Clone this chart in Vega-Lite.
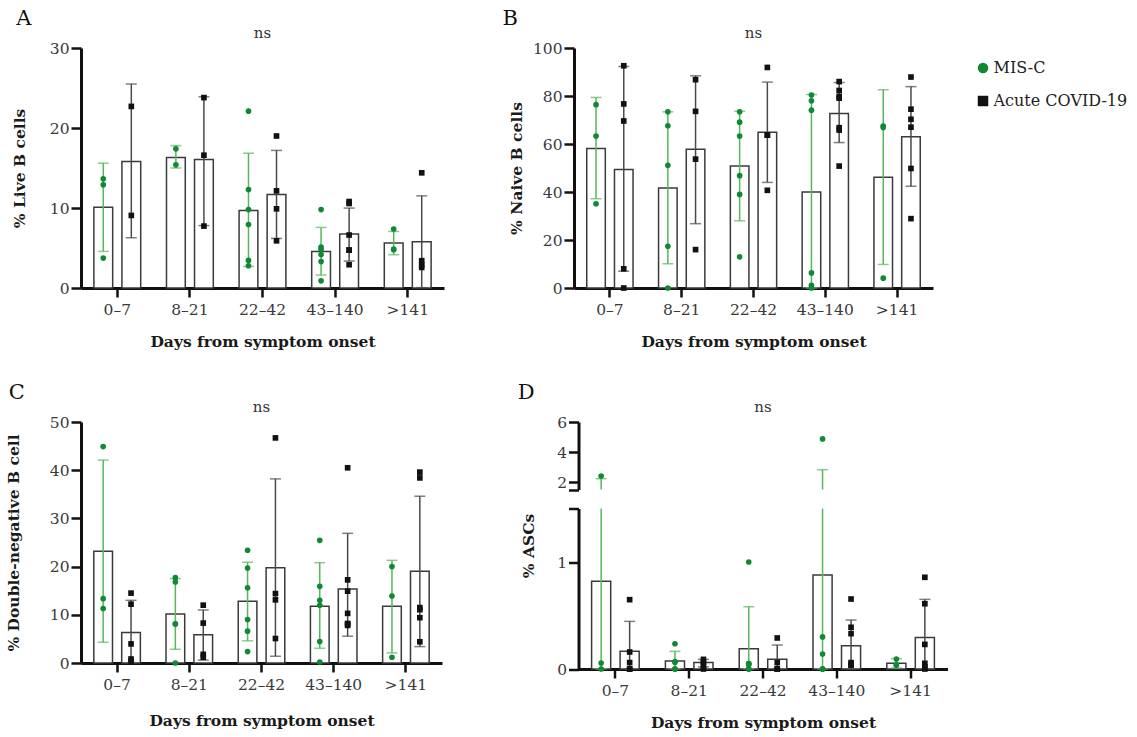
{
  "$schema": "https://vega.github.io/schema/vega-lite/v6.json",
  "background": "white",
  "padding": {"left": 6, "top": 8, "right": 0, "bottom": 0},
  "datasets": {
    "pts": [
      {"panel":"A","days":"0–7","group":"MIS-C","value":13.65},{"panel":"A","days":"0–7","group":"MIS-C","value":12.9},{"panel":"A","days":"0–7","group":"MIS-C","value":3.74},
      {"panel":"A","days":"0–7","group":"Acute COVID-19","value":22.7},{"panel":"A","days":"0–7","group":"Acute COVID-19","value":9.07},
      {"panel":"A","days":"8–21","group":"MIS-C","value":17.4},{"panel":"A","days":"8–21","group":"MIS-C","value":15.4},
      {"panel":"A","days":"8–21","group":"Acute COVID-19","value":23.8},{"panel":"A","days":"8–21","group":"Acute COVID-19","value":16.6},{"panel":"A","days":"8–21","group":"Acute COVID-19","value":7.74},
      {"panel":"A","days":"22–42","group":"MIS-C","value":22.1},{"panel":"A","days":"22–42","group":"MIS-C","value":12.3},{"panel":"A","days":"22–42","group":"MIS-C","value":9.8},{"panel":"A","days":"22–42","group":"MIS-C","value":7.94},{"panel":"A","days":"22–42","group":"MIS-C","value":3.45},{"panel":"A","days":"22–42","group":"MIS-C","value":2.78},
      {"panel":"A","days":"22–42","group":"Acute COVID-19","value":19.0},{"panel":"A","days":"22–42","group":"Acute COVID-19","value":12.15},{"panel":"A","days":"22–42","group":"Acute COVID-19","value":9.9},{"panel":"A","days":"22–42","group":"Acute COVID-19","value":5.9},
      {"panel":"A","days":"43–140","group":"MIS-C","value":9.8},{"panel":"A","days":"43–140","group":"MIS-C","value":5.12},{"panel":"A","days":"43–140","group":"MIS-C","value":4.83},{"panel":"A","days":"43–140","group":"MIS-C","value":4.18},{"panel":"A","days":"43–140","group":"MIS-C","value":3.3},{"panel":"A","days":"43–140","group":"MIS-C","value":0.9},
      {"panel":"A","days":"43–140","group":"Acute COVID-19","value":10.56},{"panel":"A","days":"43–140","group":"Acute COVID-19","value":10.81},{"panel":"A","days":"43–140","group":"Acute COVID-19","value":6.62},{"panel":"A","days":"43–140","group":"Acute COVID-19","value":4.74},{"panel":"A","days":"43–140","group":"Acute COVID-19","value":4.74},{"panel":"A","days":"43–140","group":"Acute COVID-19","value":2.91},
      {"panel":"A","days":">141","group":"MIS-C","value":7.37},{"panel":"A","days":">141","group":"MIS-C","value":4.82},{"panel":"A","days":">141","group":"MIS-C","value":4.82},
      {"panel":"A","days":">141","group":"Acute COVID-19","value":14.4},{"panel":"A","days":">141","group":"Acute COVID-19","value":3.41},{"panel":"A","days":">141","group":"Acute COVID-19","value":2.57},{"panel":"A","days":">141","group":"Acute COVID-19","value":2.91},

      {"panel":"B","days":"0–7","group":"MIS-C","value":76.4},{"panel":"B","days":"0–7","group":"MIS-C","value":63.3},{"panel":"B","days":"0–7","group":"MIS-C","value":35.1},
      {"panel":"B","days":"0–7","group":"Acute COVID-19","value":92.6},{"panel":"B","days":"0–7","group":"Acute COVID-19","value":76.7},{"panel":"B","days":"0–7","group":"Acute COVID-19","value":69.6},{"panel":"B","days":"0–7","group":"Acute COVID-19","value":8.0},{"panel":"B","days":"0–7","group":"Acute COVID-19","value":0},
      {"panel":"B","days":"8–21","group":"MIS-C","value":73.4},{"panel":"B","days":"8–21","group":"MIS-C","value":67.6},{"panel":"B","days":"8–21","group":"MIS-C","value":51.1},{"panel":"B","days":"8–21","group":"MIS-C","value":17.4},{"panel":"B","days":"8–21","group":"MIS-C","value":0},
      {"panel":"B","days":"8–21","group":"Acute COVID-19","value":86.8},{"panel":"B","days":"8–21","group":"Acute COVID-19","value":73.6},{"panel":"B","days":"8–21","group":"Acute COVID-19","value":53.7},{"panel":"B","days":"8–21","group":"Acute COVID-19","value":16.0},
      {"panel":"B","days":"22–42","group":"MIS-C","value":73.4},{"panel":"B","days":"22–42","group":"MIS-C","value":69.1},{"panel":"B","days":"22–42","group":"MIS-C","value":63.3},{"panel":"B","days":"22–42","group":"MIS-C","value":46.8},{"panel":"B","days":"22–42","group":"MIS-C","value":39.0},{"panel":"B","days":"22–42","group":"MIS-C","value":13.0},
      {"panel":"B","days":"22–42","group":"Acute COVID-19","value":91.9},{"panel":"B","days":"22–42","group":"Acute COVID-19","value":63.7},{"panel":"B","days":"22–42","group":"Acute COVID-19","value":63.7},{"panel":"B","days":"22–42","group":"Acute COVID-19","value":40.7},
      {"panel":"B","days":"43–140","group":"MIS-C","value":80.4},{"panel":"B","days":"43–140","group":"MIS-C","value":78.0},{"panel":"B","days":"43–140","group":"MIS-C","value":74.1},{"panel":"B","days":"43–140","group":"MIS-C","value":6.3},{"panel":"B","days":"43–140","group":"MIS-C","value":0},{"panel":"B","days":"43–140","group":"MIS-C","value":1.1},
      {"panel":"B","days":"43–140","group":"Acute COVID-19","value":86.0},{"panel":"B","days":"43–140","group":"Acute COVID-19","value":82.3},{"panel":"B","days":"43–140","group":"Acute COVID-19","value":79.8},{"panel":"B","days":"43–140","group":"Acute COVID-19","value":79.1},{"panel":"B","days":"43–140","group":"Acute COVID-19","value":66.8},{"panel":"B","days":"43–140","group":"Acute COVID-19","value":65.8},{"panel":"B","days":"43–140","group":"Acute COVID-19","value":50.8},
      {"panel":"B","days":">141","group":"MIS-C","value":67.5},{"panel":"B","days":">141","group":"MIS-C","value":66.9},{"panel":"B","days":">141","group":"MIS-C","value":4.1},
      {"panel":"B","days":">141","group":"Acute COVID-19","value":87.9},{"panel":"B","days":">141","group":"Acute COVID-19","value":74.5},{"panel":"B","days":">141","group":"Acute COVID-19","value":70.3},{"panel":"B","days":">141","group":"Acute COVID-19","value":67.0},{"panel":"B","days":">141","group":"Acute COVID-19","value":49.8},{"panel":"B","days":">141","group":"Acute COVID-19","value":28.9},

      {"panel":"C","days":"0–7","group":"MIS-C","value":44.9},{"panel":"C","days":"0–7","group":"MIS-C","value":13.35},{"panel":"C","days":"0–7","group":"MIS-C","value":11.3},
      {"panel":"C","days":"0–7","group":"Acute COVID-19","value":14.5},{"panel":"C","days":"0–7","group":"Acute COVID-19","value":12.2},{"panel":"C","days":"0–7","group":"Acute COVID-19","value":3.96},{"panel":"C","days":"0–7","group":"Acute COVID-19","value":0.4},{"panel":"C","days":"0–7","group":"Acute COVID-19","value":0.83},
      {"panel":"C","days":"8–21","group":"MIS-C","value":17.7},{"panel":"C","days":"8–21","group":"MIS-C","value":16.8},{"panel":"C","days":"8–21","group":"MIS-C","value":8.14},{"panel":"C","days":"8–21","group":"MIS-C","value":8.07},{"panel":"C","days":"8–21","group":"MIS-C","value":0},
      {"panel":"C","days":"8–21","group":"Acute COVID-19","value":12.0},{"panel":"C","days":"8–21","group":"Acute COVID-19","value":8.28},{"panel":"C","days":"8–21","group":"Acute COVID-19","value":1.8},{"panel":"C","days":"8–21","group":"Acute COVID-19","value":1.2},
      {"panel":"C","days":"22–42","group":"MIS-C","value":23.4},{"panel":"C","days":"22–42","group":"MIS-C","value":19.7},{"panel":"C","days":"22–42","group":"MIS-C","value":15.6},{"panel":"C","days":"22–42","group":"MIS-C","value":9.0},{"panel":"C","days":"22–42","group":"MIS-C","value":6.6},{"panel":"C","days":"22–42","group":"MIS-C","value":2.36},
      {"panel":"C","days":"22–42","group":"Acute COVID-19","value":46.7},{"panel":"C","days":"22–42","group":"Acute COVID-19","value":14.4},{"panel":"C","days":"22–42","group":"Acute COVID-19","value":13.1},{"panel":"C","days":"22–42","group":"Acute COVID-19","value":5.08},
      {"panel":"C","days":"43–140","group":"MIS-C","value":25.45},{"panel":"C","days":"43–140","group":"MIS-C","value":15.9},{"panel":"C","days":"43–140","group":"MIS-C","value":13.0},{"panel":"C","days":"43–140","group":"MIS-C","value":11.96},{"panel":"C","days":"43–140","group":"MIS-C","value":4.45},{"panel":"C","days":"43–140","group":"MIS-C","value":0.2},
      {"panel":"C","days":"43–140","group":"Acute COVID-19","value":40.5},{"panel":"C","days":"43–140","group":"Acute COVID-19","value":17.25},{"panel":"C","days":"43–140","group":"Acute COVID-19","value":14.9},{"panel":"C","days":"43–140","group":"Acute COVID-19","value":10.3},{"panel":"C","days":"43–140","group":"Acute COVID-19","value":7.8},{"panel":"C","days":"43–140","group":"Acute COVID-19","value":8.2},{"panel":"C","days":"43–140","group":"Acute COVID-19","value":8.07},
      {"panel":"C","days":">141","group":"MIS-C","value":20.0},{"panel":"C","days":">141","group":"MIS-C","value":13.9},{"panel":"C","days":">141","group":"MIS-C","value":1.2},
      {"panel":"C","days":">141","group":"Acute COVID-19","value":39.6},{"panel":"C","days":">141","group":"Acute COVID-19","value":38.4},{"panel":"C","days":">141","group":"Acute COVID-19","value":11.06},{"panel":"C","days":">141","group":"Acute COVID-19","value":11.5},{"panel":"C","days":">141","group":"Acute COVID-19","value":9.4},{"panel":"C","days":">141","group":"Acute COVID-19","value":4.4},

      {"panel":"D","days":"0–7","group":"MIS-C","value":2.4},{"panel":"D","days":"0–7","group":"MIS-C","value":0.056},{"panel":"D","days":"0–7","group":"MIS-C","value":0},
      {"panel":"D","days":"0–7","group":"Acute COVID-19","value":0.648},{"panel":"D","days":"0–7","group":"Acute COVID-19","value":0.159},{"panel":"D","days":"0–7","group":"Acute COVID-19","value":0.06},{"panel":"D","days":"0–7","group":"Acute COVID-19","value":0},{"panel":"D","days":"0–7","group":"Acute COVID-19","value":0},
      {"panel":"D","days":"8–21","group":"MIS-C","value":0.236},{"panel":"D","days":"8–21","group":"MIS-C","value":0.062},{"panel":"D","days":"8–21","group":"MIS-C","value":0.07},{"panel":"D","days":"8–21","group":"MIS-C","value":0},{"panel":"D","days":"8–21","group":"MIS-C","value":0},
      {"panel":"D","days":"8–21","group":"Acute COVID-19","value":0.09},{"panel":"D","days":"8–21","group":"Acute COVID-19","value":0.06},{"panel":"D","days":"8–21","group":"Acute COVID-19","value":0.03},{"panel":"D","days":"8–21","group":"Acute COVID-19","value":0},
      {"panel":"D","days":"22–42","group":"MIS-C","value":1.0},{"panel":"D","days":"22–42","group":"MIS-C","value":0.05},{"panel":"D","days":"22–42","group":"MIS-C","value":0.05},{"panel":"D","days":"22–42","group":"MIS-C","value":0.04},{"panel":"D","days":"22–42","group":"MIS-C","value":0},{"panel":"D","days":"22–42","group":"MIS-C","value":0},
      {"panel":"D","days":"22–42","group":"Acute COVID-19","value":0.29},{"panel":"D","days":"22–42","group":"Acute COVID-19","value":0.06},{"panel":"D","days":"22–42","group":"Acute COVID-19","value":0},{"panel":"D","days":"22–42","group":"Acute COVID-19","value":0},
      {"panel":"D","days":"43–140","group":"MIS-C","value":4.87},{"panel":"D","days":"43–140","group":"MIS-C","value":0.3},{"panel":"D","days":"43–140","group":"MIS-C","value":0.14},{"panel":"D","days":"43–140","group":"MIS-C","value":0},{"panel":"D","days":"43–140","group":"MIS-C","value":0},{"panel":"D","days":"43–140","group":"MIS-C","value":0},
      {"panel":"D","days":"43–140","group":"Acute COVID-19","value":0.654},{"panel":"D","days":"43–140","group":"Acute COVID-19","value":0.39},{"panel":"D","days":"43–140","group":"Acute COVID-19","value":0.33},{"panel":"D","days":"43–140","group":"Acute COVID-19","value":0.06},{"panel":"D","days":"43–140","group":"Acute COVID-19","value":0.037},{"panel":"D","days":"43–140","group":"Acute COVID-19","value":0.037},
      {"panel":"D","days":">141","group":"MIS-C","value":0.093},{"panel":"D","days":">141","group":"MIS-C","value":0.037},{"panel":"D","days":">141","group":"MIS-C","value":0.037},
      {"panel":"D","days":">141","group":"Acute COVID-19","value":0.857},{"panel":"D","days":">141","group":"Acute COVID-19","value":0.61},{"panel":"D","days":">141","group":"Acute COVID-19","value":0.23},{"panel":"D","days":">141","group":"Acute COVID-19","value":0.053},{"panel":"D","days":">141","group":"Acute COVID-19","value":0},{"panel":"D","days":">141","group":"Acute COVID-19","value":0.02}
    ],
    "sum": [
      {"panel":"A","days":"0–7","group":"MIS-C","mean":10.1,"lo":4.57,"hi":15.6},
      {"panel":"A","days":"0–7","group":"Acute COVID-19","mean":15.8,"lo":6.28,"hi":25.5},
      {"panel":"A","days":"8–21","group":"MIS-C","mean":16.3,"lo":15.0,"hi":17.8},
      {"panel":"A","days":"8–21","group":"Acute COVID-19","mean":16.05,"lo":7.8,"hi":23.9},
      {"panel":"A","days":"22–42","group":"MIS-C","mean":9.7,"lo":2.7,"hi":16.85},
      {"panel":"A","days":"22–42","group":"Acute COVID-19","mean":11.7,"lo":6.2,"hi":17.2},
      {"panel":"A","days":"43–140","group":"MIS-C","mean":4.57,"lo":1.62,"hi":7.57},
      {"panel":"A","days":"43–140","group":"Acute COVID-19","mean":6.74,"lo":3.37,"hi":9.99},
      {"panel":"A","days":">141","group":"MIS-C","mean":5.62,"lo":4.16,"hi":7.07},
      {"panel":"A","days":">141","group":"Acute COVID-19","mean":5.78,"lo":0.04,"hi":11.52},
      {"panel":"B","days":"0–7","group":"MIS-C","mean":58.1,"lo":37.2,"hi":79.4},
      {"panel":"B","days":"0–7","group":"Acute COVID-19","mean":49.4,"lo":7.0,"hi":92.3},
      {"panel":"B","days":"8–21","group":"MIS-C","mean":41.7,"lo":10.1,"hi":73.4},
      {"panel":"B","days":"8–21","group":"Acute COVID-19","mean":57.8,"lo":26.8,"hi":88.4},
      {"panel":"B","days":"22–42","group":"MIS-C","mean":50.8,"lo":28.0,"hi":73.6},
      {"panel":"B","days":"22–42","group":"Acute COVID-19","mean":64.9,"lo":44.0,"hi":85.8},
      {"panel":"B","days":"43–140","group":"MIS-C","mean":40.0,"lo":0,"hi":80.6},
      {"panel":"B","days":"43–140","group":"Acute COVID-19","mean":72.7,"lo":60.6,"hi":85.6},
      {"panel":"B","days":">141","group":"MIS-C","mean":46.1,"lo":9.8,"hi":82.6},
      {"panel":"B","days":">141","group":"Acute COVID-19","mean":63.0,"lo":42.4,"hi":83.9},
      {"panel":"C","days":"0–7","group":"MIS-C","mean":23.2,"lo":4.3,"hi":42.1},
      {"panel":"C","days":"0–7","group":"Acute COVID-19","mean":6.33,"lo":0,"hi":13.0},
      {"panel":"C","days":"8–21","group":"MIS-C","mean":10.15,"lo":2.85,"hi":17.5},
      {"panel":"C","days":"8–21","group":"Acute COVID-19","mean":5.84,"lo":0.6,"hi":11.0},
      {"panel":"C","days":"22–42","group":"MIS-C","mean":12.8,"lo":4.6,"hi":20.9},
      {"panel":"C","days":"22–42","group":"Acute COVID-19","mean":19.75,"lo":1.4,"hi":38.2},
      {"panel":"C","days":"43–140","group":"MIS-C","mean":11.75,"lo":3.06,"hi":20.8},
      {"panel":"C","days":"43–140","group":"Acute COVID-19","mean":15.37,"lo":5.56,"hi":26.9},
      {"panel":"C","days":">141","group":"MIS-C","mean":11.75,"lo":2.1,"hi":21.3},
      {"panel":"C","days":">141","group":"Acute COVID-19","mean":19.05,"lo":3.4,"hi":34.6},
      {"panel":"D","days":"0–7","group":"MIS-C","mean":0.82,"lo":0,"hi":2.22},
      {"panel":"D","days":"0–7","group":"Acute COVID-19","mean":0.165,"lo":0,"hi":0.445},
      {"panel":"D","days":"8–21","group":"MIS-C","mean":0.075,"lo":0,"hi":0.165},
      {"panel":"D","days":"8–21","group":"Acute COVID-19","mean":0.06,"lo":0.02,"hi":0.09},
      {"panel":"D","days":"22–42","group":"MIS-C","mean":0.19,"lo":0,"hi":0.582},
      {"panel":"D","days":"22–42","group":"Acute COVID-19","mean":0.09,"lo":0,"hi":0.224},
      {"panel":"D","days":"43–140","group":"MIS-C","mean":0.878,"lo":0,"hi":2.82},
      {"panel":"D","days":"43–140","group":"Acute COVID-19","mean":0.218,"lo":0,"hi":0.458},
      {"panel":"D","days":">141","group":"MIS-C","mean":0.053,"lo":0.01,"hi":0.096},
      {"panel":"D","days":">141","group":"Acute COVID-19","mean":0.295,"lo":0,"hi":0.651}
    ]
  },
  "config": {
    "font": "DejaVu Serif",
    "view": {"stroke": null},
    "axis": {"domainColor": "#111111", "domainWidth": 3, "tickColor": "#111111", "tickWidth": 2.5, "tickSize": 10, "labelFont": "DejaVu Serif", "labelFontSize": 15.5, "labelColor": "#3a3a3a", "labelPadding": 2, "titleFont": "DejaVu Serif", "titleFontSize": 15.5, "titleFontWeight": "bold", "titleColor": "#1a1a1a", "grid": false},
    "axisX": {"labelAngle": 0, "labelPadding": 5, "titlePadding": 17, "tickSize": 9},
    "axisY": {"labelOverlap": false},
    "title": {"font": "DejaVu Serif", "fontWeight": "normal", "color": "#111111"}
  },
  "spacing": 32,
  "resolve": {"scale": {"xOffset": "independent"}},
  "vconcat": [
    {
      "hconcat": [
        {
          "title": {"text": "A", "anchor": "start", "frame": "bounds", "fontSize": 21, "offset": -3, "dx": 4},
          "resolve": {"scale": {"xOffset": "independent"}},
          "vconcat": [
            {
              "width": 363, "height": 240,
              "title": {"text": "ns", "anchor": "middle", "frame": "group", "fontSize": 15, "color": "#333333", "offset": 0},
              "encoding": {
                "x": {"field": "days", "type": "nominal", "sort": ["0–7","8–21","22–42","43–140",">141"], "scale": {"domain": ["0–7","8–21","22–42","43–140",">141"], "paddingInner": 0, "paddingOuter": 0}, "title": "Days from symptom onset"},
                "xOffset": {"field": "group", "type": "nominal", "sort": ["MIS-C","Acute COVID-19"], "scale": {"domain": ["MIS-C","Acute COVID-19"], "paddingInner": 0.33, "paddingOuter": 0.46}}
              },
              "layer": [
                {"data": {"name": "sum"}, "transform": [{"filter": "datum.panel === 'A'"}], "mark": {"type": "bar", "fill": "white", "stroke": "#3a3a3a", "strokeWidth": 1.5}, "encoding": {"y": {"field": "mean", "type": "quantitative", "scale": {"domain": [0, 30], "nice": false}, "axis": {"values": [0,10,20,30], "title": "% Live B cells", "titlePadding": 22}}}},
                {"data": {"name": "sum"}, "transform": [{"filter": "datum.panel === 'A'"}], "mark": {"type": "rule", "strokeWidth": 1.5}, "encoding": {"y": {"field": "lo", "type": "quantitative"}, "y2": {"field": "hi"}, "color": {"condition": {"test": "datum.group === 'MIS-C'", "value": "#5ab55c"}, "value": "#4a4a4a"}}},
                {"data": {"name": "sum"}, "transform": [{"filter": "datum.panel === 'A'"}], "mark": {"type": "tick", "thickness": 1.5, "size": 11}, "encoding": {"y": {"field": "hi", "type": "quantitative"}, "color": {"condition": {"test": "datum.group === 'MIS-C'", "value": "#5ab55c"}, "value": "#4a4a4a"}}},
                {"data": {"name": "sum"}, "transform": [{"filter": "datum.panel === 'A'"}], "mark": {"type": "tick", "thickness": 1.5, "size": 11}, "encoding": {"y": {"field": "lo", "type": "quantitative"}, "color": {"condition": {"test": "datum.group === 'MIS-C'", "value": "#5ab55c"}, "value": "#4a4a4a"}}},
                {"data": {"name": "pts"}, "transform": [{"filter": "datum.panel === 'A'"}], "mark": {"type": "point", "filled": true, "size": 32, "opacity": 1}, "encoding": {"y": {"field": "value", "type": "quantitative"}, "color": {"field": "group", "type": "nominal", "scale": {"domain": ["MIS-C","Acute COVID-19"], "range": ["#0d8a33","#111111"]}, "legend": {"title": null, "orient": "none", "legendX": 894, "legendY": 12, "labelFontSize": 16, "labelColor": "#222222", "symbolSize": 110, "rowPadding": 17, "labelOffset": 2.5}}, "shape": {"field": "group", "type": "nominal", "scale": {"domain": ["MIS-C","Acute COVID-19"], "range": ["circle","square"]}, "legend": {"title": null, "orient": "none", "legendX": 894, "legendY": 12, "labelFontSize": 16, "labelColor": "#222222", "symbolSize": 110, "rowPadding": 17, "labelOffset": 2.5}}}}
              ]
            }
          ]
        },
        {
          "title": {"text": "B", "anchor": "start", "frame": "bounds", "fontSize": 21, "offset": -3, "dx": -7},
          "resolve": {"scale": {"xOffset": "independent"}},
          "vconcat": [
            {
              "width": 359, "height": 240,
              "title": {"text": "ns", "anchor": "middle", "frame": "group", "fontSize": 15, "color": "#333333", "offset": 0},
              "encoding": {
                "x": {"field": "days", "type": "nominal", "sort": ["0–7","8–21","22–42","43–140",">141"], "scale": {"domain": ["0–7","8–21","22–42","43–140",">141"], "paddingInner": 0, "paddingOuter": 0}, "title": "Days from symptom onset"},
                "xOffset": {"field": "group", "type": "nominal", "sort": ["MIS-C","Acute COVID-19"], "scale": {"domain": ["MIS-C","Acute COVID-19"], "paddingInner": 0.33, "paddingOuter": 0.46}}
              },
              "layer": [
                {"data": {"name": "sum"}, "transform": [{"filter": "datum.panel === 'B'"}], "mark": {"type": "bar", "fill": "white", "stroke": "#3a3a3a", "strokeWidth": 1.5}, "encoding": {"y": {"field": "mean", "type": "quantitative", "scale": {"domain": [0, 100], "nice": false}, "axis": {"values": [0,20,40,60,80,100], "title": "% Naive B cells", "titlePadding": 8}}}},
                {"data": {"name": "sum"}, "transform": [{"filter": "datum.panel === 'B'"}], "mark": {"type": "rule", "strokeWidth": 1.5}, "encoding": {"y": {"field": "lo", "type": "quantitative"}, "y2": {"field": "hi"}, "color": {"condition": {"test": "datum.group === 'MIS-C'", "value": "#5ab55c"}, "value": "#4a4a4a"}}},
                {"data": {"name": "sum"}, "transform": [{"filter": "datum.panel === 'B'"}], "mark": {"type": "tick", "thickness": 1.5, "size": 11}, "encoding": {"y": {"field": "hi", "type": "quantitative"}, "color": {"condition": {"test": "datum.group === 'MIS-C'", "value": "#5ab55c"}, "value": "#4a4a4a"}}},
                {"data": {"name": "sum"}, "transform": [{"filter": "datum.panel === 'B'"}], "mark": {"type": "tick", "thickness": 1.5, "size": 11}, "encoding": {"y": {"field": "lo", "type": "quantitative"}, "color": {"condition": {"test": "datum.group === 'MIS-C'", "value": "#5ab55c"}, "value": "#4a4a4a"}}},
                {"data": {"name": "pts"}, "transform": [{"filter": "datum.panel === 'B'"}], "mark": {"type": "point", "filled": true, "size": 32, "opacity": 1}, "encoding": {"y": {"field": "value", "type": "quantitative"}, "color": {"field": "group", "type": "nominal", "scale": {"domain": ["MIS-C","Acute COVID-19"], "range": ["#0d8a33","#111111"]}, "legend": {"title": null, "orient": "none", "legendX": 894, "legendY": 12, "labelFontSize": 16, "labelColor": "#222222", "symbolSize": 110, "rowPadding": 17, "labelOffset": 2.5}}, "shape": {"field": "group", "type": "nominal", "scale": {"domain": ["MIS-C","Acute COVID-19"], "range": ["circle","square"]}, "legend": {"title": null, "orient": "none", "legendX": 894, "legendY": 12, "labelFontSize": 16, "labelColor": "#222222", "symbolSize": 110, "rowPadding": 17, "labelOffset": 2.5}}}}
              ]
            }
          ]
        }
      ],
      "spacing": 58,
      "resolve": {"scale": {"xOffset": "independent"}}
    },
    {
      "hconcat": [
        {
          "title": {"text": "C", "anchor": "start", "frame": "bounds", "fontSize": 21, "offset": -3, "dx": 2},
          "resolve": {"scale": {"xOffset": "independent"}},
          "vconcat": [
            {
              "width": 361, "height": 241,
              "title": {"text": "ns", "anchor": "middle", "frame": "group", "fontSize": 15, "color": "#333333", "offset": 0},
              "encoding": {
                "x": {"field": "days", "type": "nominal", "sort": ["0–7","8–21","22–42","43–140",">141"], "scale": {"domain": ["0–7","8–21","22–42","43–140",">141"], "paddingInner": 0, "paddingOuter": 0}, "title": "Days from symptom onset", "axis": {"titlePadding": 21}},
                "xOffset": {"field": "group", "type": "nominal", "sort": ["MIS-C","Acute COVID-19"], "scale": {"domain": ["MIS-C","Acute COVID-19"], "paddingInner": 0.33, "paddingOuter": 0.46}}
              },
              "layer": [
                {"data": {"name": "sum"}, "transform": [{"filter": "datum.panel === 'C'"}], "mark": {"type": "bar", "fill": "white", "stroke": "#3a3a3a", "strokeWidth": 1.5}, "encoding": {"y": {"field": "mean", "type": "quantitative", "scale": {"domain": [0, 50], "nice": false}, "axis": {"values": [0,10,20,30,40,50], "title": "% Double-negative B cell", "titlePadding": 27.5}}}},
                {"data": {"name": "sum"}, "transform": [{"filter": "datum.panel === 'C'"}], "mark": {"type": "rule", "strokeWidth": 1.5}, "encoding": {"y": {"field": "lo", "type": "quantitative"}, "y2": {"field": "hi"}, "color": {"condition": {"test": "datum.group === 'MIS-C'", "value": "#5ab55c"}, "value": "#4a4a4a"}}},
                {"data": {"name": "sum"}, "transform": [{"filter": "datum.panel === 'C'"}], "mark": {"type": "tick", "thickness": 1.5, "size": 11}, "encoding": {"y": {"field": "hi", "type": "quantitative"}, "color": {"condition": {"test": "datum.group === 'MIS-C'", "value": "#5ab55c"}, "value": "#4a4a4a"}}},
                {"data": {"name": "sum"}, "transform": [{"filter": "datum.panel === 'C'"}], "mark": {"type": "tick", "thickness": 1.5, "size": 11}, "encoding": {"y": {"field": "lo", "type": "quantitative"}, "color": {"condition": {"test": "datum.group === 'MIS-C'", "value": "#5ab55c"}, "value": "#4a4a4a"}}},
                {"data": {"name": "pts"}, "transform": [{"filter": "datum.panel === 'C'"}], "mark": {"type": "point", "filled": true, "size": 32, "opacity": 1}, "encoding": {"y": {"field": "value", "type": "quantitative"}, "color": {"field": "group", "type": "nominal", "scale": {"domain": ["MIS-C","Acute COVID-19"], "range": ["#0d8a33","#111111"]}, "legend": {"title": null, "orient": "none", "legendX": 894, "legendY": 12, "labelFontSize": 16, "labelColor": "#222222", "symbolSize": 110, "rowPadding": 17, "labelOffset": 2.5}}, "shape": {"field": "group", "type": "nominal", "scale": {"domain": ["MIS-C","Acute COVID-19"], "range": ["circle","square"]}, "legend": {"title": null, "orient": "none", "legendX": 894, "legendY": 12, "labelFontSize": 16, "labelColor": "#222222", "symbolSize": 110, "rowPadding": 17, "labelOffset": 2.5}}}}
              ]
            }
          ]
        },
        {
          "title": {"text": "D", "anchor": "start", "frame": "bounds", "fontSize": 21, "offset": -3, "dx": -4},
          "resolve": {"scale": {"xOffset": "independent"}},
          "spacing": 3.5,
          "vconcat": [
            {
              "width": 369, "height": 67.5,
              "title": {"text": "ns", "anchor": "middle", "frame": "group", "fontSize": 15, "color": "#333333", "offset": 0},
              "encoding": {
                "x": {"field": "days", "type": "nominal", "sort": ["0–7","8–21","22–42","43–140",">141"], "scale": {"domain": ["0–7","8–21","22–42","43–140",">141"], "paddingInner": 0, "paddingOuter": 0}, "axis": null},
                "xOffset": {"field": "group", "type": "nominal", "sort": ["MIS-C","Acute COVID-19"], "scale": {"domain": ["MIS-C","Acute COVID-19"], "paddingInner": 0.33, "paddingOuter": 0.46}}
              },
              "layer": [
                {"data": {"name": "sum"}, "transform": [{"filter": "datum.panel === 'D' && datum.hi > 1.5"}], "mark": {"type": "rule", "strokeWidth": 1.5}, "encoding": {"y": {"field": "lo", "type": "quantitative", "scale": {"domain": [1.5, 6], "nice": false, "zero": false, "clamp": true}, "axis": {"values": [1.5,2,4,6], "tickCount": 8, "format": ".0f", "labelExpr": "datum.value === 1.5 ? '' : datum.label", "title": null}}, "y2": {"field": "hi"}, "color": {"condition": {"test": "datum.group === 'MIS-C'", "value": "#5ab55c"}, "value": "#4a4a4a"}}},
                {"data": {"name": "sum"}, "transform": [{"filter": "datum.panel === 'D' && datum.hi > 1.5"}], "mark": {"type": "tick", "thickness": 1.5, "size": 11}, "encoding": {"y": {"field": "hi", "type": "quantitative"}, "color": {"condition": {"test": "datum.group === 'MIS-C'", "value": "#5ab55c"}, "value": "#4a4a4a"}}},
                {"data": {"name": "pts"}, "transform": [{"filter": "datum.panel === 'D' && datum.value > 1.5"}], "mark": {"type": "point", "filled": true, "size": 32, "opacity": 1}, "encoding": {"y": {"field": "value", "type": "quantitative"}, "color": {"field": "group", "type": "nominal", "scale": {"domain": ["MIS-C","Acute COVID-19"], "range": ["#0d8a33","#111111"]}, "legend": {"title": null, "orient": "none", "legendX": 894, "legendY": 12, "labelFontSize": 16, "labelColor": "#222222", "symbolSize": 110, "rowPadding": 17, "labelOffset": 2.5}}, "shape": {"field": "group", "type": "nominal", "scale": {"domain": ["MIS-C","Acute COVID-19"], "range": ["circle","square"]}, "legend": {"title": null, "orient": "none", "legendX": 894, "legendY": 12, "labelFontSize": 16, "labelColor": "#222222", "symbolSize": 110, "rowPadding": 17, "labelOffset": 2.5}}}}
              ]
            },
            {
              "width": 369, "height": 160.5,
              "encoding": {
                "x": {"field": "days", "type": "nominal", "sort": ["0–7","8–21","22–42","43–140",">141"], "scale": {"domain": ["0–7","8–21","22–42","43–140",">141"], "paddingInner": 0, "paddingOuter": 0}, "title": "Days from symptom onset"},
                "xOffset": {"field": "group", "type": "nominal", "sort": ["MIS-C","Acute COVID-19"], "scale": {"domain": ["MIS-C","Acute COVID-19"], "paddingInner": 0.33, "paddingOuter": 0.46}}
              },
              "layer": [
                {"data": {"name": "sum"}, "transform": [{"filter": "datum.panel === 'D'"}], "mark": {"type": "bar", "fill": "white", "stroke": "#3a3a3a", "strokeWidth": 1.5}, "encoding": {"y": {"field": "mean", "type": "quantitative", "scale": {"domain": [0, 1.5], "nice": false, "clamp": true}, "axis": {"values": [0,1,1.5], "tickCount": 8, "format": ".0f", "labelExpr": "datum.value === 1.5 ? '' : datum.label", "title": "% ASCs", "titlePadding": 20, "titleY": 37}}}},
                {"data": {"name": "sum"}, "transform": [{"filter": "datum.panel === 'D'"}], "mark": {"type": "rule", "strokeWidth": 1.5}, "encoding": {"y": {"field": "lo", "type": "quantitative"}, "y2": {"field": "hi"}, "color": {"condition": {"test": "datum.group === 'MIS-C'", "value": "#5ab55c"}, "value": "#4a4a4a"}}},
                {"data": {"name": "sum"}, "transform": [{"filter": "datum.panel === 'D' && datum.hi <= 1.5"}], "mark": {"type": "tick", "thickness": 1.5, "size": 11}, "encoding": {"y": {"field": "hi", "type": "quantitative"}, "color": {"condition": {"test": "datum.group === 'MIS-C'", "value": "#5ab55c"}, "value": "#4a4a4a"}}},
                {"data": {"name": "sum"}, "transform": [{"filter": "datum.panel === 'D'"}], "mark": {"type": "tick", "thickness": 1.5, "size": 11}, "encoding": {"y": {"field": "lo", "type": "quantitative"}, "color": {"condition": {"test": "datum.group === 'MIS-C'", "value": "#5ab55c"}, "value": "#4a4a4a"}}},
                {"data": {"name": "pts"}, "transform": [{"filter": "datum.panel === 'D' && datum.value <= 1.5"}], "mark": {"type": "point", "filled": true, "size": 32, "opacity": 1}, "encoding": {"y": {"field": "value", "type": "quantitative"}, "color": {"field": "group", "type": "nominal", "scale": {"domain": ["MIS-C","Acute COVID-19"], "range": ["#0d8a33","#111111"]}, "legend": {"title": null, "orient": "none", "legendX": 894, "legendY": 12, "labelFontSize": 16, "labelColor": "#222222", "symbolSize": 110, "rowPadding": 17, "labelOffset": 2.5}}, "shape": {"field": "group", "type": "nominal", "scale": {"domain": ["MIS-C","Acute COVID-19"], "range": ["circle","square"]}, "legend": {"title": null, "orient": "none", "legendX": 894, "legendY": 12, "labelFontSize": 16, "labelColor": "#222222", "symbolSize": 110, "rowPadding": 17, "labelOffset": 2.5}}}}
              ]
            }
          ]
        }
      ],
      "spacing": 75.5,
      "resolve": {"scale": {"xOffset": "independent"}}
    }
  ]
}
